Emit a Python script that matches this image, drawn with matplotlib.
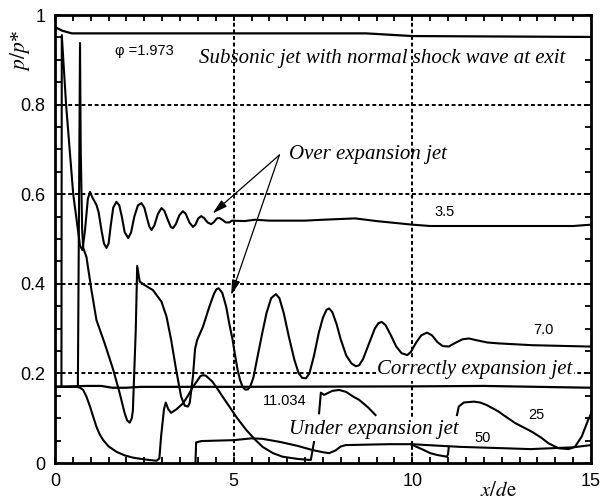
import numpy as np
import matplotlib
matplotlib.use('Agg')
import matplotlib.pyplot as plt
from matplotlib.ticker import MultipleLocator

# curves (x/de, p/p*); NaN breaks a line
phi_1973_x = [0, 0.2, 0.47, 5, 8.7, 10, 15]
phi_1973_y = [0.973, 0.965, 0.959, 0.959, 0.959, 0.953, 0.951]

phi_35_x = [0, 0.18, 0.19, 0.31, 0.51, 0.70, 0.77, 0.84, 0.92, 0.98, 1.05, 1.12, 1.16, 1.22, 1.3,
            1.37, 1.44, 1.5, 1.56, 1.63, 1.72, 1.8, 1.87, 1.95, 2.05, 2.13, 2.22, 2.32, 2.42,
            2.5, 2.58, 2.64, 2.7, 2.78, 2.88, 2.98, 3.06, 3.16, 3.24, 3.3, 3.38, 3.48, 3.58,
            3.66, 3.76, 3.86, 3.93, 4.01, 4.09, 4.17, 4.27, 4.37, 4.45, 4.53, 4.6, 4.68, 4.78,
            4.88, 4.95, 5.3, 5.6, 6.0, 7.0, 7.5, 8.4, 9.0, 10.0, 10.5, 12, 14.5, 15]
phi_35_y = [0.17, 0.17, 0.955, 0.80, 0.60, 0.485, 0.475, 0.52, 0.59, 0.605, 0.592, 0.582, 0.576, 0.56, 0.52,
            0.49, 0.48, 0.49, 0.53, 0.57, 0.583, 0.575, 0.55, 0.515, 0.502, 0.515, 0.55, 0.575, 0.58,
            0.57, 0.545, 0.528, 0.52, 0.53, 0.556, 0.569, 0.563, 0.542, 0.527, 0.524, 0.533, 0.553, 0.562,
            0.556, 0.537, 0.527, 0.532, 0.546, 0.551, 0.547, 0.537, 0.533, 0.538, 0.546, 0.547, 0.543, 0.537,
            0.537, 0.541, 0.540, 0.543, 0.541, 0.541, 0.543, 0.546, 0.54, 0.532, 0.529, 0.529, 0.529, 0.532]

phi_70_x = [0, 0.64, 0.70, 0.72, 0.76, 0.79, 0.88, 1.02, 1.16, 1.39, 1.63, 1.81, 1.95, 2.02,
            2.09, 2.15, 2.18, 2.26, 2.30, 2.37, 2.51, 2.74, 2.98, 3.12, 3.25, 3.39, 3.53,
            3.63, 3.72, 3.77, 3.86, 3.92, 3.98, 4.14, 4.32, 4.45, 4.52, 4.58, 4.68, 4.79, 4.88,
            4.97, 5.04, 5.11, 5.18, 5.25, 5.32, 5.39, 5.46, 5.55, 5.65, 5.8, 5.92, 6.05, 6.18,
            6.28, 6.4, 6.55, 6.7, 6.82, 6.92, 7.02, 7.12, 7.25, 7.38, 7.5, 7.6, 7.67, 7.76,
            7.88, 8.0, 8.15, 8.3, 8.42, 8.51, 8.62, 8.78, 8.95, 9.05, 9.14, 9.25, 9.4, 9.55,
            9.7, 9.86, 9.96, 10.1, 10.25, 10.41, 10.55, 10.7, 10.85, 11.02, 11.2, 11.4, 11.58,
            11.8, 12.1, 12.41, 13.34, 14.92, 15]
phi_70_y = [0.17, 0.17, 0.9375, 0.70, 0.52, 0.48, 0.46, 0.386, 0.319, 0.267, 0.208, 0.156, 0.111, 0.095,
            0.09, 0.10, 0.118, 0.297, 0.44, 0.405, 0.397, 0.386, 0.36, 0.327, 0.275, 0.208, 0.148,
            0.128, 0.126, 0.134, 0.193, 0.255, 0.275, 0.304, 0.349, 0.378, 0.388, 0.39, 0.38, 0.349, 0.31,
            0.275, 0.24, 0.208, 0.185, 0.17, 0.164, 0.164, 0.17, 0.19, 0.23, 0.29, 0.335, 0.368, 0.377,
            0.368, 0.335, 0.28, 0.23, 0.2, 0.19, 0.189, 0.2, 0.24, 0.29, 0.325, 0.342, 0.345, 0.337,
            0.31, 0.275, 0.24, 0.222, 0.216, 0.218, 0.232, 0.265, 0.3, 0.312, 0.315, 0.308, 0.285, 0.26,
            0.245, 0.241, 0.248, 0.268, 0.285, 0.291, 0.285, 0.27, 0.261, 0.26, 0.268, 0.276, 0.278,
            0.274, 0.269, 0.267, 0.263, 0.26, 0.26]

phi_11034_x = [0, 0.9, 1.3, 1.6, 2.0, 2.4, 5, 10, 12, 15]
phi_11034_y = [0.17, 0.172, 0.172, 0.168, 0.168, 0.17, 0.17, 0.171, 0.172, 0.168]

phi_25_x = [0, 0.6, 0.7, 0.79, 0.88, 0.98, 1.07, 1.16, 1.25, 1.35, 1.5, 1.72, 1.95, 2.18, 2.5, 2.84,
            2.92, 2.97, 3.05, 3.1, 3.17, 3.25, 3.4, 3.58, 3.72, 3.86, 3.95, 4.07, 4.14, 4.22, 4.4,
            4.51, 4.7, 4.88, 5.1, 5.35, 5.6, 5.81, 6.1, 6.37, 6.8, 7.11, 7.16, 7.25, np.nan,
            7.39, 7.44, 7.53, 7.76, 7.95, 8.14, 8.35, 8.51, 8.75, 8.97, np.nan,
            9.95, 10.15, 10.32, 10.5, 10.69, 10.97, 11.0, 11.02, np.nan,
            11.25, 11.3, 11.44, 11.72, 11.9, 12.09, 12.41, 12.55, 12.88, 13.34, 13.6, 13.81,
            14.09, 14.37, 14.55, 14.74, 14.92, 15.0]
phi_25_y = [0.17, 0.17, 0.168, 0.163, 0.148, 0.126, 0.103, 0.081, 0.064, 0.051, 0.037, 0.025, 0.017, 0.012, 0.008, 0.005,
            0.01, 0.06, 0.12, 0.135, 0.12, 0.112, 0.12, 0.133, 0.15, 0.17, 0.18, 0.194, 0.196, 0.195, 0.182,
            0.17, 0.147, 0.126, 0.1, 0.074, 0.052, 0.036, 0.022, 0.014, 0.009, 0.007, 0.007, 0.048, np.nan,
            0.111, 0.157, 0.152, 0.161, 0.163, 0.159, 0.148, 0.141, 0.125, 0.107, np.nan,
            0.042, 0.035, 0.029, 0.022, 0.018, 0.014, 0.02, 0.036, np.nan,
            0.107, 0.126, 0.135, 0.137, 0.135, 0.129, 0.115, 0.107, 0.089, 0.07, 0.057, 0.044,
            0.033, 0.031, 0.036, 0.059, 0.096, 0.11]

phi_50_x = [3.93, 3.95, 4.1, 5.0, 5.5, 5.8, 6.3, 6.8, 7.2, 7.5, 7.67, 7.85, 8.0, 8.14, 9.34,
            10.0, 10.41, 11.34, 12.55, 13.3, 14.5, 15]
phi_50_y = [0.0, 0.046, 0.049, 0.051, 0.055, 0.054, 0.047, 0.038, 0.029, 0.024, 0.022, 0.028, 0.037, 0.04, 0.042,
            0.042, 0.04, 0.036, 0.033, 0.031, 0.035, 0.04]

x_ticks = [0, 5, 10, 15]
y_ticks = [0, 0.2, 0.4, 0.6, 0.8, 1.0]
y_tick_labels = ['0', '0.2', '0.4', '0.6', '0.8', '1']

SANS = 'Liberation Sans'
SERIF = 'Liberation Serif'
plt.rcParams['mathtext.fontset'] = 'stix'

fig = plt.figure(figsize=(6.03, 5.01), dpi=100)
ax = fig.add_axes([55 / 603, 38 / 501, 536 / 603, 448 / 501])
ax.set_xlim(0, 15)
ax.set_ylim(0, 1)

# dotted grid
for g in [0.2, 0.4, 0.6, 0.8]:
    ax.axhline(g, color='k', lw=1.4, ls=(0, (2.0, 1.4)), zorder=1)
for g in [5, 10]:
    ax.axvline(g, color='k', lw=1.4, ls=(0, (2.0, 1.4)), zorder=1)

ax.plot(phi_1973_x, phi_1973_y, color='k', lw=1.6, zorder=3)
ax.plot(phi_35_x, phi_35_y, color='k', lw=1.5, zorder=3)
ax.plot(phi_70_x, phi_70_y, color='k', lw=1.5, zorder=3)
ax.plot(phi_11034_x, phi_11034_y, color='k', lw=1.6, zorder=3)
ax.plot(phi_25_x, phi_25_y, color='k', lw=1.5, zorder=3)
ax.plot(phi_50_x, phi_50_y, color='k', lw=1.5, zorder=3)

# labels on the curves
ax.text(2.5, 0.92, '\u03c6 =1.973', fontsize=10.5, family=SANS, ha='center', va='center')
ax.text(10.9, 0.56, '3.5', fontsize=10.5, family=SANS, ha='center', va='center')
ax.text(13.67, 0.297, '7.0', fontsize=10.5, family=SANS, ha='center', va='center')
ax.text(6.42, 0.138, '11.034', fontsize=10.5, family=SANS, ha='center', va='center')
ax.text(13.47, 0.107, '25', fontsize=10.5, family=SANS, ha='center', va='center')
ax.text(11.97, 0.055, '50', fontsize=10.5, family=SANS, ha='center', va='center')

box = dict(facecolor='white', edgecolor='none', pad=1.0)
ax.text(9.16, 0.903, 'Subsonic jet with normal shock wave at exit', fontsize=15,
        family=SERIF, style='italic', ha='center', va='center')
ax.text(8.75, 0.688, 'Over expansion jet', fontsize=15, family=SERIF, style='italic',
        ha='center', va='center')
ax.text(11.75, 0.208, 'Correctly expansion jet', fontsize=15, family=SERIF, style='italic',
        ha='center', va='center', bbox=box, zorder=4)
ax.text(8.93, 0.074, 'Under expansion jet', fontsize=15, family=SERIF, style='italic',
        ha='center', va='center', bbox=box, zorder=4)

arrow = dict(arrowstyle='-|>,head_length=0.9,head_width=0.25', color='k', lw=0.9,
             shrinkA=0, shrinkB=0)
ax.annotate('', xy=(4.41, 0.557), xytext=(6.28, 0.6875), arrowprops=arrow)
ax.annotate('', xy=(4.93, 0.375), xytext=(6.28, 0.6875), arrowprops=arrow)

# axis titles
ax.text(-0.98, 0.92, '$p/p$*', fontsize=15.5, family=SERIF, rotation=90,
        ha='center', va='center', clip_on=False)
ax.text(12.4, -0.06, '$x/d\\mathrm{e}$', fontsize=15, ha='center', va='center', clip_on=False)

ax.set_xticks(x_ticks)
ax.set_yticks(y_ticks)
ax.set_yticklabels(y_tick_labels)
ax.xaxis.set_minor_locator(MultipleLocator(0.5))
ax.yaxis.set_minor_locator(MultipleLocator(0.05))
ax.tick_params(which='both', direction='in', top=True, right=True, width=1.3, color='k')
ax.tick_params(which='major', length=4, labelsize=13, pad=7)
ax.tick_params(which='minor', length=4)
for lab in ax.get_xticklabels() + ax.get_yticklabels():
    lab.set_family(SANS)
for s in ax.spines.values():
    s.set_linewidth(2.0)
    s.set_zorder(5)

fig.savefig('out.png', dpi=100)
